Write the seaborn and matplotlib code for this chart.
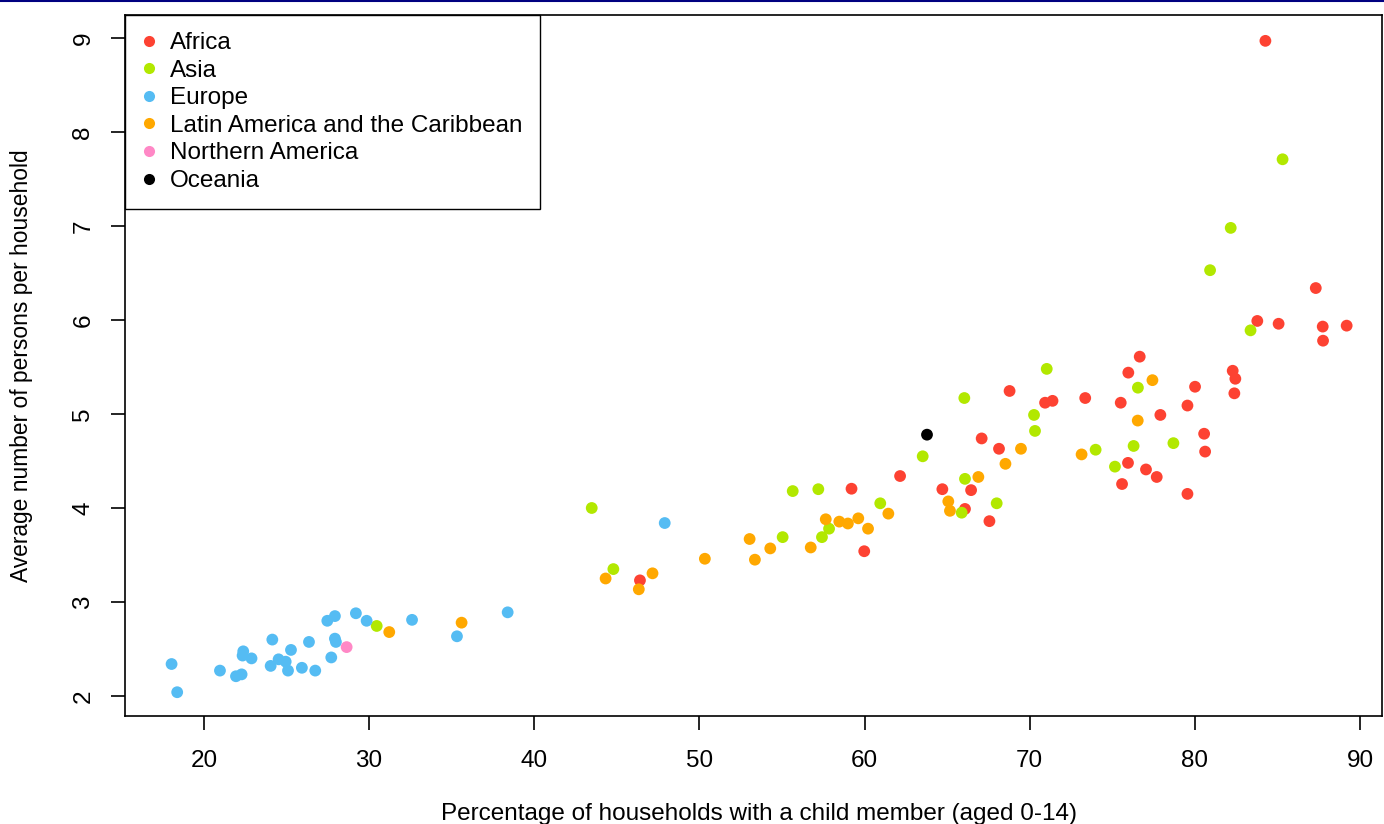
import matplotlib.pyplot as plt
import pandas as pd
import seaborn as sns
from matplotlib.lines import Line2D

# region order used for the legend and colours
REGIONS = [
    "Africa",
    "Asia",
    "Europe",
    "Latin America and the Caribbean",
    "Northern America",
    "Oceania",
]
COLORS = ["#FD4232", "#B2E800", "#55BCF3", "#FFA800", "#FF88C6", "#000000"]

africa_x = [46.40, 59.21, 59.98, 62.15, 64.71, 66.45, 66.08, 67.56, 67.09, 68.14,
            68.78, 70.93, 71.38, 73.36, 75.51, 75.97, 76.66, 80.01, 79.55, 77.91,
            82.29, 82.45, 82.39, 80.56, 80.62, 75.95, 77.04, 77.69, 75.59, 79.55,
            84.27, 87.32, 83.78, 85.07, 87.74, 89.19, 87.76]
africa_y = [3.23, 4.205, 3.54, 4.34, 4.20, 4.19, 3.99, 3.86, 4.74, 4.63,
            5.245, 5.12, 5.14, 5.17, 5.12, 5.44, 5.61, 5.29, 5.09, 4.99,
            5.46, 5.375, 5.22, 4.79, 4.60, 4.48, 4.41, 4.33, 4.255, 4.15,
            8.97, 6.34, 5.99, 5.96, 5.93, 5.94, 5.78]

asia_x = [30.46, 43.48, 44.79, 55.65, 57.20, 55.04, 57.42, 57.85, 60.95, 63.52,
          66.08, 65.88, 68.00, 66.04, 71.03, 70.26, 70.32, 73.99, 76.55, 76.29,
          75.16, 78.70, 85.31, 82.17, 80.92, 83.37]
asia_y = [2.745, 4.00, 3.35, 4.18, 4.20, 3.69, 3.69, 3.78, 4.05, 4.55,
          4.31, 3.95, 4.05, 5.17, 5.48, 4.99, 4.82, 4.62, 5.28, 4.66,
          4.44, 4.69, 7.71, 6.98, 6.53, 5.89]

europe_x = [18.04, 18.38, 20.97, 21.94, 22.28, 22.38, 22.34, 22.88, 24.14, 24.04,
            24.52, 24.95, 25.09, 25.27, 25.93, 26.36, 26.74, 27.71, 27.93, 27.99,
            27.47, 27.93, 29.20, 29.85, 32.60, 35.32, 38.39, 47.90]
europe_y = [2.34, 2.04, 2.27, 2.21, 2.23, 2.475, 2.43, 2.40, 2.60, 2.32,
            2.39, 2.365, 2.27, 2.49, 2.30, 2.575, 2.27, 2.41, 2.61, 2.575,
            2.80, 2.85, 2.88, 2.80, 2.81, 2.635, 2.89, 3.84]

latin_x = [31.22, 35.60, 44.32, 46.33, 47.16, 50.33, 53.04, 53.36, 54.29, 56.74,
           57.65, 58.47, 58.99, 59.62, 60.21, 61.44, 65.07, 65.17, 66.89, 69.47,
           68.53, 73.14, 77.43, 76.54]
latin_y = [2.68, 2.78, 3.25, 3.135, 3.305, 3.46, 3.67, 3.45, 3.57, 3.58,
           3.88, 3.855, 3.835, 3.89, 3.78, 3.94, 4.07, 3.97, 4.33, 4.63,
           4.47, 4.57, 5.36, 4.93]

northam_x = [28.64]
northam_y = [2.52]

oceania_x = [63.78]
oceania_y = [4.78]


def build_frame() -> pd.DataFrame:
    parts = []
    series = [
        (africa_x, africa_y),
        (asia_x, asia_y),
        (europe_x, europe_y),
        (latin_x, latin_y),
        (northam_x, northam_y),
        (oceania_x, oceania_y),
    ]
    for region, (xs, ys) in zip(REGIONS, series):
        parts.append(pd.DataFrame({"x": xs, "y": ys, "region": region}))
    return pd.concat(parts, ignore_index=True)


def main() -> None:
    sns.set_theme(style="white")
    plt.rcParams["font.family"] = ["Liberation Sans", "DejaVu Sans"]
    plt.rcParams["text.color"] = "black"
    plt.rcParams["axes.labelcolor"] = "black"
    plt.rcParams["xtick.color"] = "black"
    plt.rcParams["ytick.color"] = "black"
    fs = 17.5

    df = build_frame()

    fig = plt.figure(figsize=(13.84, 8.24), dpi=100)
    ax = fig.add_axes([125 / 1384, 1 - 716 / 824, 1257 / 1384, 701 / 824])

    sns.scatterplot(
        data=df,
        x="x",
        y="y",
        hue="region",
        hue_order=REGIONS,
        palette=dict(zip(REGIONS, COLORS)),
        s=72,
        linewidth=0,
        legend=False,
        ax=ax,
    )

    ax.set_xlim(15.22, 91.33)
    ax.set_ylim(1.787, 9.245)
    ax.set_xticks([20, 30, 40, 50, 60, 70, 80, 90])
    ax.set_yticks([2, 3, 4, 5, 6, 7, 8, 9])
    ax.tick_params(axis="both", direction="out", length=10, width=1.2,
                   labelsize=fs, bottom=True, left=True)
    ax.tick_params(axis="x", pad=14.5)
    ax.tick_params(axis="y", pad=12)
    for label in ax.get_yticklabels():
        label.set_rotation(90)
        label.set_va("center")

    for spine in ax.spines.values():
        spine.set_color("black")
        spine.set_linewidth(1.2)

    ax.set_xlabel("Percentage of households with a child member (aged 0-14)", fontsize=fs)
    ax.set_ylabel("Average number of persons per household", fontsize=16.4)
    ax.xaxis.set_label_coords(0.504, -0.124)
    ax.yaxis.set_label_coords(-0.073, 0.5)

    handles = [
        Line2D([], [], marker="o", linestyle="", markersize=8,
               markerfacecolor=c, markeredgewidth=0)
        for c in COLORS
    ]
    leg = ax.legend(
        handles,
        REGIONS,
        loc="upper left",
        bbox_to_anchor=(0, 1),
        fontsize=fs,
        frameon=True,
        fancybox=False,
        borderaxespad=0,
        handlelength=0.6,
        handletextpad=0.56,
        labelspacing=0.23,
        borderpad=0.7,
    )
    leg.get_frame().set_edgecolor("black")
    leg.get_frame().set_linewidth(1.0)
    leg.get_frame().set_alpha(1)

    # thin navy rule along the very top of the image
    fig.add_artist(Line2D([0, 1], [0.999, 0.999], transform=fig.transFigure,
                          color="#000080", linewidth=1.5))

    fig.savefig("out.png", dpi=100)
    plt.close(fig)


if __name__ == "__main__":
    main()
